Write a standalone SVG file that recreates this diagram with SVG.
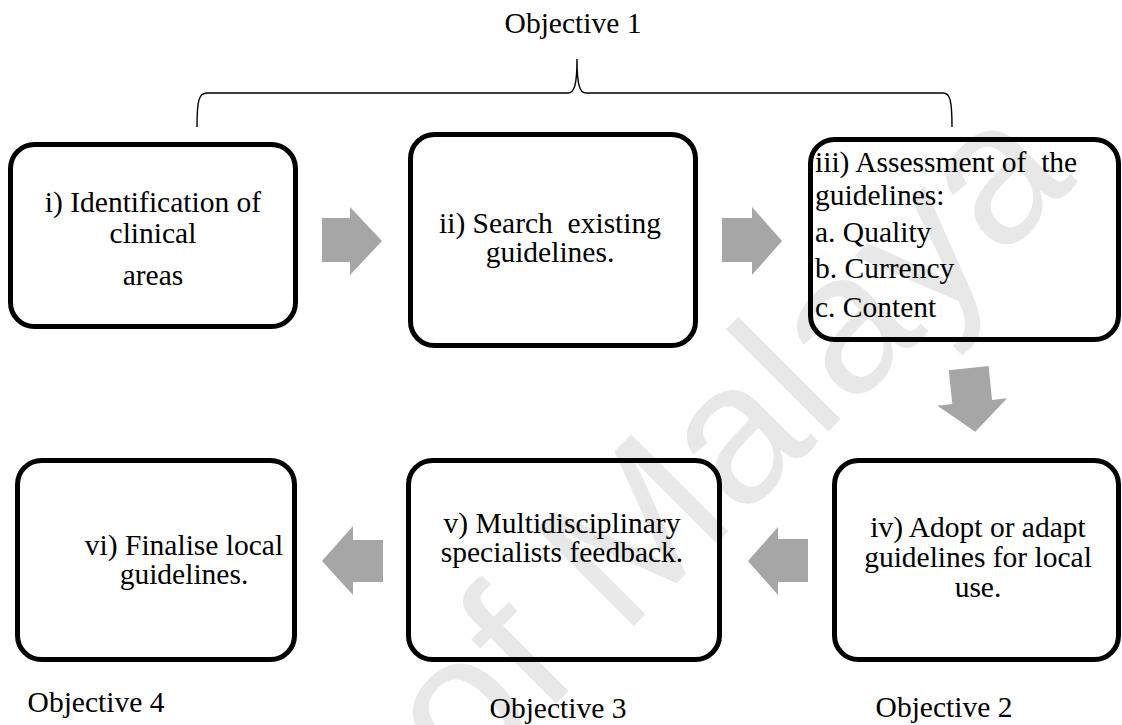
<svg xmlns="http://www.w3.org/2000/svg" width="1122" height="725" viewBox="0 0 1122 725">
  <style>
    .box { fill: #ffffff; stroke: #000000; stroke-width: 5; }
    .arrow { fill: #a6a6a6; stroke: none; }
    .brace { fill: none; stroke: #000000; stroke-width: 1.4; }
  </style>

  <rect width="1122" height="725" fill="#ffffff"/>

  <g font-family="'Liberation Serif', 'Times New Roman', serif" font-size="29.5" fill="#000000">
    <!-- Objective 1 heading and brace over the first row -->
    <g id="objective-1">
      <text x="573" y="33" text-anchor="middle">Objective 1</text>
      <path class="brace" d="M197,127 C197,100 199,93 207,93 L568,93 C574,93 577,86 577,59 C577,86 580,93 586,93 L943,93 C950,93 952,100 952,127"/>
    </g>

    <!-- Step boxes -->
    <g id="step-i" text-anchor="middle">
      <rect class="box" x="10.5" y="144.5" width="285" height="182" rx="24"/>
      <text x="153" y="212">i) Identification of</text>
      <text x="153" y="243">clinical</text>
      <text x="153" y="285">areas</text>
    </g>

    <g id="step-ii" text-anchor="middle">
      <rect class="box" x="410.5" y="134.5" width="285" height="211" rx="24"/>
      <text x="550" y="233" xml:space="preserve">ii) Search  existing</text>
      <text x="550" y="262">guidelines.</text>
    </g>

    <g id="step-iii">
      <rect class="box" x="810.5" y="139.5" width="308" height="200" rx="24"/>
      <text x="815" y="172" xml:space="preserve">iii) Assessment of  the</text>
      <text x="815" y="205">guidelines:</text>
      <text x="815" y="242">a. Quality</text>
      <text x="815" y="278">b. Currency</text>
      <text x="815" y="317">c. Content</text>
    </g>

    <g id="step-iv" text-anchor="middle">
      <rect class="box" x="834.5" y="460.5" width="284" height="199" rx="24"/>
      <text x="978" y="537">iv) Adopt or adapt</text>
      <text x="978" y="567">guidelines for local</text>
      <text x="978" y="597">use.</text>
    </g>

    <g id="step-v" text-anchor="middle">
      <rect class="box" x="408.5" y="460.5" width="311" height="199" rx="24"/>
      <text x="562" y="533">v) Multidisciplinary</text>
      <text x="562" y="562">specialists feedback.</text>
    </g>

    <g id="step-vi" text-anchor="middle">
      <rect class="box" x="17.5" y="460.5" width="277" height="199" rx="24"/>
      <text x="184" y="555">vi) Finalise local</text>
      <text x="184" y="584">guidelines.</text>
    </g>

    <!-- Objective captions under the second row -->
    <g id="objective-labels" text-anchor="middle">
      <text x="96" y="712">Objective 4</text>
      <text x="558" y="718">Objective 3</text>
      <text x="944" y="717">Objective 2</text>
    </g>
  </g>

  <!-- Block arrows between steps -->
  <g id="connectors">
    <polygon class="arrow" points="322,218 350,218 350,207 382,241 350,275 350,262 322,262"/>
    <polygon class="arrow" points="722,218 752,218 752,207 782,241 752,275 752,262 722,262"/>
    <polygon class="arrow" transform="rotate(-6 972 400)" points="952,368 992,368 992,402 1007,402 972,432 937,402 952,402"/>
    <polygon class="arrow" points="808,539 778,539 778,527 748,561 778,595 778,582 808,582"/>
    <polygon class="arrow" points="383,540 353,540 353,526 322,561 353,595 353,582 383,582"/>
  </g>

  <!-- Faint diagonal watermark -->
  <text font-family="'Liberation Sans', Arial, sans-serif" font-size="200" fill="#000000" fill-opacity="0.09" transform="translate(465 795) rotate(-45)">of Malaya</text>
</svg>
